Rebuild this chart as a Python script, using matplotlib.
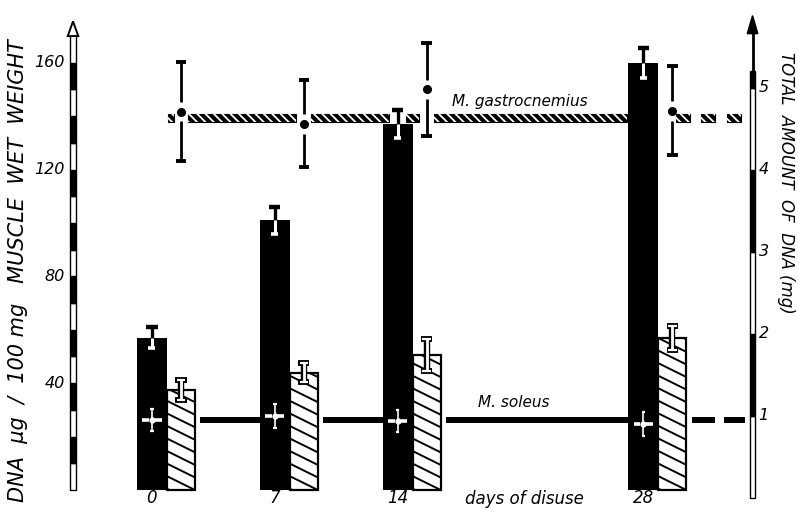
import matplotlib
matplotlib.use("Agg")
import matplotlib.pyplot as plt
from matplotlib.patches import Rectangle, Polygon

plt.rcParams['hatch.linewidth'] = 1.3

days = [0, 7, 14, 28]
day_labels = ["0", "7", "14", "28"]

# DNA concentration, ug / 100 mg muscle wet weight (left scale)
soleus_conc = [57, 101, 137, 160]
soleus_conc_err = [4.0, 5.0, 5.2, 5.6]
gastro_conc = [37.5, 44, 50.5, 57]
gastro_conc_err = [3.7, 3.7, 6.0, 4.5]

# total amount of DNA, mg (right scale)
gastro_total = [4.71, 4.56, 4.98, 4.72]
gastro_total_err = [0.60, 0.53, 0.57, 0.54]
soleus_total = [0.95, 1.00, 0.94, 0.90]
soleus_total_err = [0.13, 0.15, 0.13, 0.15]
gastro_total_mean = 4.63
soleus_total_mean = 0.95

left_ticks = [40, 80, 120, 160]
right_ticks = [1, 2, 3, 4, 5]

ital = dict(style='italic', family=['DejaVu Sans'])

fig = plt.figure(figsize=(7.98, 5.29), dpi=100)
ax = fig.add_axes([0, 0, 1, 1])
ax.set_xlim(-8.66, 36.81)
ax.set_ylim(-14.6, 183.5)
ax2 = ax.twinx()
ax2.set_ylim(-0.378, 6.07)
ax.axis('off')
ax2.axis('off')

bw_black = 1.7
bw_hatch = 1.6
hatch_off = (bw_black + bw_hatch) / 2
hx = [d + hatch_off for d in days]

# bars
ax.bar(days, soleus_conc, width=bw_black, color='black', zorder=2)
hbars = ax.bar(hx, gastro_conc, width=bw_hatch, facecolor='white',
               edgecolor='black', linewidth=1.6, zorder=2)

# shallow diagonal hatching inside the white bars
for b in hbars:
    x0, x1 = b.get_x(), b.get_x() + b.get_width()
    top = b.get_height()
    drop, step = 5.2, 4.7
    clip = Rectangle((x0, 0), x1 - x0, top, transform=ax.transData)
    k = -3
    while drop + k * step < top + drop:
        yl = drop + k * step
        ln, = ax.plot([x0, x1], [yl, yl - drop], color='black', lw=1.4, zorder=3)
        ln.set_clip_path(clip)
        k += 1


def hline(axis, x0, x1, y, **kw):
    axis.plot([x0, x1], [y, y], solid_capstyle='butt', **kw)


def vline(axis, x, y0, y1, **kw):
    axis.plot([x, x], [y0, y1], solid_capstyle='butt', **kw)


# error bars on concentration bars
for d, v, e in zip(days, soleus_conc, soleus_conc_err):
    vline(ax, d, v, v + e, color='black', lw=2.4, zorder=4)
    hline(ax, d - 0.32, d + 0.32, v + e, color='black', lw=3.2, zorder=4)
    vline(ax, d, v - e, v, color='white', lw=2.2, zorder=4)
    hline(ax, d - 0.2, d + 0.2, v - e, color='white', lw=2.6, zorder=4)

for x, v, e in zip(hx, gastro_conc, gastro_conc_err):
    vline(ax, x, v - e, v + e, color='black', lw=4.6, zorder=4)
    hline(ax, x - 0.32, x + 0.32, v + e, color='black', lw=4.2, zorder=4)
    hline(ax, x - 0.32, x + 0.32, v - e, color='black', lw=4.2, zorder=4)
    vline(ax, x, v - e, v + e, color='white', lw=2.0, zorder=5)
    hline(ax, x - 0.24, x + 0.24, v + e, color='white', lw=1.6, zorder=5)
    hline(ax, x - 0.24, x + 0.24, v - e, color='white', lw=1.6, zorder=5)

# left axis: striped column with outlined arrow
ax_l, w_l = -4.5, 0.34
for v0 in range(0, 160, 10):
    fc = 'white' if (v0 // 10) % 2 == 0 else 'black'
    ax.add_patch(Rectangle((ax_l - w_l / 2, v0), w_l, 10, facecolor=fc,
                           edgecolor='black', lw=1.0, zorder=2))
ax.add_patch(Rectangle((ax_l - w_l / 2, 160), w_l, 11, facecolor='white',
                       edgecolor='black', lw=1.0, zorder=2))
ax.add_patch(Polygon([(ax_l - 0.3, 170), (ax_l + 0.3, 170), (ax_l, 175.5)],
                     closed=True, facecolor='white', edgecolor='black', lw=1.4, zorder=3))
for t in left_ticks:
    ax.text(-4.96, t, str(t), ha='right', va='center', fontsize=11.5, **ital)

ax.text(-7.64, 82, "DNA  \u00b5g  /  100 mg   MUSCLE  WET  WEIGHT", rotation=90,
        ha='center', va='center', fontsize=15, **ital)

# right axis
ax_r, w_r = 34.22, 0.28
for v0 in range(0, 5):
    fc = 'white' if v0 % 2 == 0 else 'black'
    ax2.add_patch(Rectangle((ax_r - w_r / 2, v0), w_r, 1, facecolor=fc,
                            edgecolor='black', lw=1.0, zorder=2))
ax2.add_patch(Rectangle((ax_r - w_r / 2, 5), w_r, 0.2, facecolor='black',
                        edgecolor='black', lw=1.0, zorder=2))
vline(ax2, ax_r, 5.2, 5.72, color='black', lw=2.0)
ax2.add_patch(Polygon([(ax_r - 0.3, 5.66), (ax_r + 0.3, 5.66), (ax_r, 5.88)],
                      closed=True, facecolor='black', edgecolor='black', lw=1, zorder=3))
for t in right_ticks:
    ax2.text(34.57, t, str(t), ha='left', va='center', fontsize=11.5, **ital)

ax2.text(36.15, 3.84, "TOTAL  AMOUNT  OF  DNA (mg)", rotation=-90,
         ha='center', va='center', fontsize=12, **ital)


def pieces(start, end, gaps):
    segs, cur = [], start
    for g0, g1 in sorted(gaps):
        if g1 <= start or g0 >= end:
            continue
        segs.append((cur, g0))
        cur = g1
    segs.append((cur, end))
    return segs


# M. gastrocnemius: mean line of total DNA
band = 0.09
gaps = [(x - 0.42, x + 0.42) for x in hx[:-1]] + [(days[2] - 0.5, days[2] + 0.5)]
segs = pieces(days[0] + 0.9, days[-1] - 0.95, gaps)
segs += [(hx[-1] + a, hx[-1] + a + 0.8) for a in (0.2, 1.65, 3.1)]
for a, b in segs:
    ax2.add_patch(Rectangle((a, gastro_total_mean - band / 2), b - a, band,
                            facecolor='black', edgecolor='black', lw=0.8, zorder=3))
    ax2.add_patch(Rectangle((a, gastro_total_mean - band / 2), b - a, band,
                            facecolor='none', edgecolor='white', lw=0,
                            hatch='\\\\\\\\', zorder=4))

for x, v, e in zip(hx, gastro_total, gastro_total_err):
    ax2.plot(x, v, 'o', color='black', ms=5.5, zorder=5)
    vline(ax2, x, v + 0.12, v + e, color='black', lw=2.0, zorder=5)
    vline(ax2, x, v - e, v - 0.12, color='black', lw=2.0, zorder=5)
    hline(ax2, x - 0.3, x + 0.3, v + e, color='black', lw=2.8, zorder=5)
    hline(ax2, x - 0.3, x + 0.3, v - e, color='black', lw=2.8, zorder=5)

ax2.text(17.1, 4.83, "M. gastrocnemius", ha='left', va='center', fontsize=11, **ital)

# M. soleus: mean line of total DNA
for i in range(len(days) - 1):
    hline(ax2, hx[i] + bw_hatch / 2 + 0.3, days[i + 1] - bw_black / 2,
          soleus_total_mean, color='black', lw=4.3, zorder=3)
end = hx[-1] + bw_hatch / 2
for a, b in ((0.32, 1.63), (2.15, 3.35)):
    hline(ax2, end + a, end + b, soleus_total_mean, color='black', lw=4.3, zorder=3)

for d, v, e in zip(days, soleus_total, soleus_total_err):
    hline(ax2, d - 0.55, d - 0.17, v, color='white', lw=2.6, zorder=5)
    hline(ax2, d + 0.17, d + 0.55, v, color='white', lw=2.6, zorder=5)
    vline(ax2, d, v - e, v + e, color='white', lw=1.2, zorder=5)
    hline(ax2, d - 0.1, d + 0.1, v + e, color='white', lw=1.6, zorder=5)
    hline(ax2, d - 0.1, d + 0.1, v - e, color='white', lw=1.6, zorder=5)
    ax2.plot(d, v, 'o', color='white', ms=3.5, zorder=6)

ax2.text(18.58, 1.17, "M. soleus", ha='left', va='center', fontsize=11, **ital)

# x labels
for d, lab in zip(days, day_labels):
    ax.text(d, -3.0, lab, ha='center', va='center', fontsize=12, **ital)
ax.text(21.25, -3.2, "days of disuse", ha='center', va='center', fontsize=12, **ital)

fig.savefig("out.png", dpi=100)
